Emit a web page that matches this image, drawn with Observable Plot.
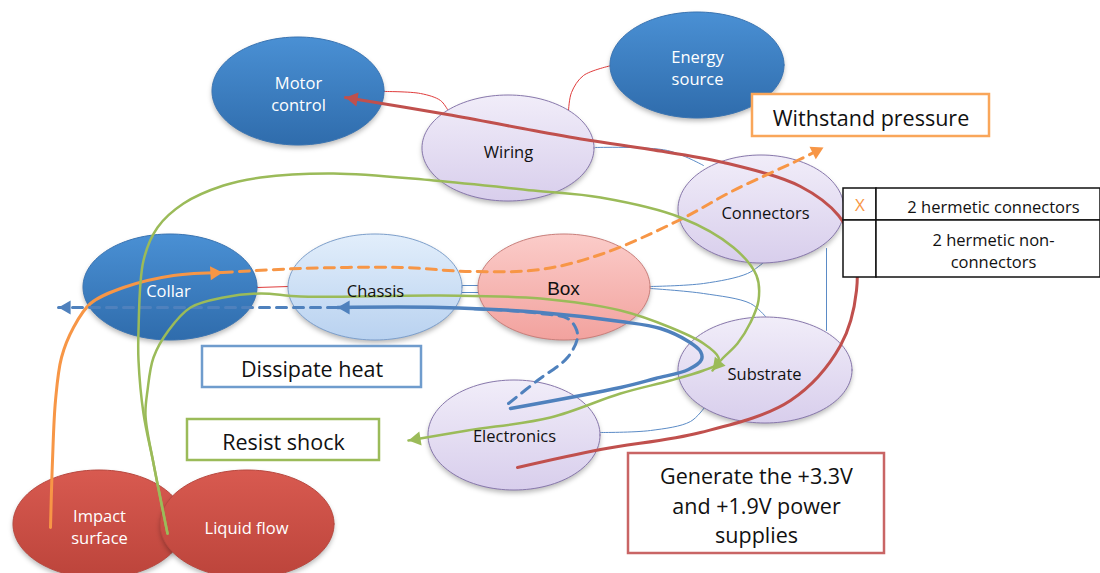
<!DOCTYPE html>
<html><head><meta charset="utf-8">
<script src="https://cdn.jsdelivr.net/npm/d3@7"></script>
<script src="https://cdn.jsdelivr.net/npm/@observablehq/plot@0.6"></script>
<style>body{margin:0;background:#fff}</style>
</head><body><div id="chart"></div>
<script>
// ---- Nodes (ellipses) ----
const nodeNames  = ["Impact surface","Liquid flow","Motor control","Energy source","Wiring","Connectors","Collar","Chassis","Box","Substrate","Electronics"];
const nodeLabels = ["Impact\nsurface","Liquid flow","Motor\ncontrol","Energy\nsource","Wiring","Connectors","Collar","Chassis","Box","Substrate","Electronics"];
const nodeCX = [99, 247, 298, 697, 508, 761, 170, 375, 564, 765, 514];
const nodeCY = [524, 524, 91, 65, 148, 209, 287, 287, 287, 370, 435];
const nodeRX = [86, 87, 86, 87, 86, 83, 87, 87, 86, 87, 86];
const nodeRY = [54, 54, 54, 53, 53, 54, 53, 53, 53, 53, 55];
const nodeKind = ["red","red","blue","blue","lav","lav","blue","chassis","box","lav","lav"];
const labelX = [99, 246, 298, 697, 508, 765, 168, 375, 563, 764, 514];
const labelY = [525, 526, 92, 66, 150, 211, 289, 289, 288, 372, 434];

// ---- Thin connector lines ----
const linkColors = ["#E03C3C","#E03C3C","#5B8BC6","#E03C3C","#5B8BC6","#5B8BC6","#5B8BC6","#5B8BC6","#5B8BC6","#5B8BC6"];
const linkPoints = [
  [[383,91],[420,93],[440,100],[447,109]],
  [[568,110],[571,92],[583,75],[611,65]],
  [[595,147],[667,150],[703,165]],
  [[257,287],[288,286]],
  [[461,285],[479,285]],
  [[461,292],[479,292]],
  [[650,286],[703,283],[747,273],[763,262]],
  [[650,288],[703,293],[750,303],[765,316]],
  [[826,248],[826,330]],
  [[600,432],[650,430],[690,421],[704,407]]
];

// ---- Thick flow arrows ----
const flowColors = ["#C0504D","#F79646","#F79646","#4F81BD","#4F81BD","#4F81BD","#9BBB59","#9BBB59"];
const flowWidths = [3, 3, 3, 3.5, 3, 3, 2.5, 2.5];
const flowDashed = [false, false, true, false, true, true, false, false];
const flowHead   = [true, true, true, true, true, false, true, true];
const flowPoints = [
  [[517,467],[600,449],[700,432],[790,400],[840,345],[856,290],[853,245],[838,215],[800,186],[723,162],[650,149],[590,140],[533,130],[447,114],[345,97]],
  [[50,527],[52,460],[55,400],[61,357],[73,327],[90,303],[123,287],[173,275],[222,272]],
  [[222,272],[300,268],[400,267],[470,271],[540,269],[600,254],[678,220],[733,190],[797,160],[823,147]],
  [[510,408],[620,387],[655,378],[688,369],[701,359],[700,351],[688,341],[660,328],[620,321],[540,312],[440,307],[337,307]],
  [[337,307],[58,307]],
  [[508,403],[537,380],[567,357],[577,337],[575,327],[567,318],[540,313],[507,310],[467,308]],
  [[167,533],[153,463],[145,415],[147,390],[153,357],[168,330],[190,307],[223,297],[260,293],[300,296],[440,295],[540,298],[620,310],[670,327],[703,343],[718,357],[716,364],[703,370],[670,380],[620,393],[550,417],[467,430],[408,440]],
  [[167,533],[153,463],[143,413],[138,360],[138,330],[143,260],[157,227],[183,203],[223,185],[260,177],[333,173],[433,180],[533,190],[600,197],[680,217],[733,247],[756,275],[758,300],[750,322],[737,343],[722,358],[712,370]]
];

// ---- Labelled boxes ----
const boxLabels = ["Withstand pressure","Dissipate heat","Resist shock","Generate the +3.3V\nand +1.9V power\nsupplies"];
const boxX1 = [752, 202, 187, 628];
const boxX2 = [989, 421, 379, 884];
const boxY1 = [94, 346, 419, 453];
const boxY2 = [136, 387, 460, 553];
const boxColors = ["#F9A65A","#6F9CCD","#9BBB59","#C96565"];

// ---- Table ----
const tableX1 = [843, 876, 843, 876];
const tableX2 = [876, 1100, 876, 1100];
const tableY1 = [188, 188, 220, 220];
const tableY2 = [220, 220, 277, 277];
const tableTexts = ["X","2 hermetic connectors","","2 hermetic non-\nconnectors"];

const FONT = "Open Sans, sans-serif";
const kindBase = {red:"#c84e45", blue:"#3b7cc0", lav:"#e4dcf2", chassis:"#cce0f6", box:"#f6b6b2"};
const kindGrad = {red:"url(#gRed)", blue:"url(#gBlue)", lav:"url(#gLav)", chassis:"url(#gChassis)", box:"url(#gBox)"};
const kindStroke = {red:"#B8483F", blue:"#3A74B2", lav:"#8878AC", chassis:"#7D9FCB", box:"#C97F7B"};
const kindText = {red:"white", blue:"white", lav:"#111", chassis:"#111", box:"#111"};
const SHADOW = "#000001";

function ellipseBand(i) {
  const pts = [];
  const N = 64;
  for (let k = 0; k <= N; k++) {
    const t = k / N * Math.PI;
    pts.push({x: nodeCX[i] + nodeRX[i] * Math.cos(t), y1: nodeCY[i] - nodeRY[i] * Math.sin(t), y2: nodeCY[i] + nodeRY[i] * Math.sin(t)});
  }
  return pts;
}
function toObjs(pts) { return pts.map(([x, y]) => ({x, y})); }
const R = 5.2;
function headOf(pts) {
  const [x1, y1] = pts[pts.length - 2], [x2, y2] = pts[pts.length - 1];
  const dx = x2 - x1, dy = y2 - y1, L = Math.hypot(dx, dy), off = 1.555 * R;
  return {x: x2 - dx / L * off, y: y2 - dy / L * off, rotate: Math.atan2(dx, -dy) * 180 / Math.PI};
}

const marks = [];
linkPoints.forEach((p, i) => marks.push(Plot.line(toObjs(p), {x: "x", y: "y", stroke: linkColors[i], strokeWidth: 1, curve: "catmull-rom"})));
nodeNames.forEach((n, i) => {
  const kind = nodeKind[i];
  const band = ellipseBand(i);
  marks.push(Plot.area(band, {x1: "x", y1: "y1", y2: "y2", fill: SHADOW, fillOpacity: 0.28, dy: 3}));
  marks.push(Plot.area(band, {x1: "x", y1: "y1", y2: "y2", fill: kindBase[kind], stroke: kindStroke[kind], strokeWidth: 1}));
});
flowPoints.forEach((p, i) => {
  marks.push(Plot.line(toObjs(p), {x: "x", y: "y", stroke: flowColors[i], strokeWidth: flowWidths[i], curve: "catmull-rom",
    strokeDasharray: flowDashed[i] ? "10,7" : null}));
});
const heads = flowPoints.map((p, i) => ({...headOf(p), color: flowColors[i]})).filter((d, i) => flowHead[i]);
marks.push(Plot.dot(heads, {x: "x", y: "y", rotate: "rotate", symbol: "triangle", r: R, fill: "color", stroke: "none"}));
const boxes = boxLabels.map((l, i) => ({l, x1: boxX1[i], x2: boxX2[i], y1: boxY1[i], y2: boxY2[i], c: boxColors[i]}));
marks.push(Plot.rect(boxes, {x1: "x1", x2: "x2", y1: "y1", y2: "y2", fill: "white", stroke: "c", strokeWidth: 2.5}));
marks.push(Plot.text(boxes, {x: d => (d.x1 + d.x2) / 2, y: d => (d.y1 + d.y2) / 2 + 1, text: "l", fontSize: 21.5, fontFamily: FONT, fill: "#111", lineHeight: 1.37}));
const cells = tableTexts.map((t, i) => ({t, x1: tableX1[i], x2: tableX2[i], y1: tableY1[i], y2: tableY2[i]}));
marks.push(Plot.rect(cells, {x1: "x1", x2: "x2", y1: "y1", y2: "y2", fill: "white", stroke: "#111", strokeWidth: 1.5}));
marks.push(Plot.text(cells.filter(d => d.t !== "X"), {x: 993, y: d => (d.y1 + d.y2) / 2 + 1, text: "t", fontSize: 16.5, fontFamily: FONT, fill: "#111", lineHeight: 1.35}));
marks.push(Plot.text(cells.filter(d => d.t === "X"), {x: d => (d.x1 + d.x2) / 2, y: d => (d.y1 + d.y2) / 2 + 1, text: "t", fontSize: 17, fontFamily: FONT, fill: "#F79646"}));
const labels = nodeNames.map((n, i) => ({t: nodeLabels[i], x: labelX[i], y: labelY[i], c: kindText[nodeKind[i]], box: n === "Box"}));
marks.push(Plot.text(labels.filter(d => !d.box), {x: "x", y: "y", text: "t", fill: "c", fontSize: 16.5, fontFamily: FONT, lineHeight: 1.35}));
marks.push(Plot.text(labels.filter(d => d.box), {x: "x", y: "y", text: "t", fill: "c", fontSize: 19, fontFamily: "Liberation Sans, Arial, sans-serif"}));

const svg = Plot.plot({
  width: 1100, height: 573, margin: 0,
  x: {domain: [0, 1100], range: [0, 1100], axis: null},
  y: {domain: [0, 573], range: [0, 573], axis: null},
  style: {background: "white", overflow: "visible"},
  marks
});

// gradients and blur, applied after rendering
const NS = "http://www.w3.org/2000/svg";
const defs = document.createElementNS(NS, "defs");
const grads = {gRed: ["#D85A50", "#BC443B"], gBlue: ["#4A90D4", "#2F6CAC"], gLav: ["#F1EDF9", "#D8CEEC"], gChassis: ["#E2EEFB", "#B9D2F0"], gBox: ["#FBCCC9", "#F2A29E"]};
for (const [id, [c0, c1]] of Object.entries(grads)) {
  const g = document.createElementNS(NS, "linearGradient");
  g.setAttribute("id", id); g.setAttribute("x1", "0"); g.setAttribute("y1", "0"); g.setAttribute("x2", "0"); g.setAttribute("y2", "1");
  [[0, c0], [1, c1]].forEach(([o, c]) => { const s = document.createElementNS(NS, "stop"); s.setAttribute("offset", o); s.setAttribute("stop-color", c); g.appendChild(s); });
  defs.appendChild(g);
}
const f = document.createElementNS(NS, "filter");
f.setAttribute("id", "blur"); f.setAttribute("x", "-20%"); f.setAttribute("y", "-30%"); f.setAttribute("width", "140%"); f.setAttribute("height", "160%");
const gb = document.createElementNS(NS, "feGaussianBlur");
gb.setAttribute("stdDeviation", "2.5");
f.appendChild(gb); defs.appendChild(f);
svg.insertBefore(defs, svg.firstChild);
const norm = s => (s || "").toLowerCase();
svg.querySelectorAll("[fill]").forEach(el => {
  const fl = norm(el.getAttribute("fill"));
  if (fl === SHADOW) { el.setAttribute("filter", "url(#blur)"); return; }
  for (const k of Object.keys(kindBase)) if (fl === kindBase[k]) el.setAttribute("fill", kindGrad[k]);
});

document.getElementById("chart").appendChild(svg);
</script>
</body></html>
